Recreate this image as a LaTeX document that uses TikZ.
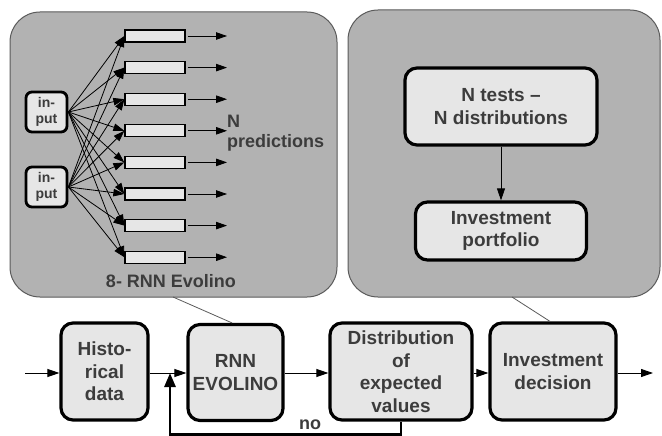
\documentclass[tikz,border=0pt]{standalone}
\usepackage{fontspec}
\setmainfont{Liberation Sans}
\usetikzlibrary{arrows.meta}
\definecolor{panelfill}{HTML}{B2B2B2}
\definecolor{panelline}{HTML}{5A5A5A}
\definecolor{boxfill}{HTML}{E6E6E6}
\definecolor{txt}{HTML}{3C3C3C}
\tikzset{
  panel/.style={draw=panelline, line width=1pt, fill=panelfill, rounded corners=30pt, inner sep=0pt},
  bigbox/.style={draw=black, line width=3.2pt, fill=boxfill, rounded corners=12pt, align=center,
    text=txt, font=\fontsize{19}{22.5}\selectfont\bfseries, inner sep=0pt},
  inbox/.style={draw=black, line width=2.8pt, fill=boxfill, rounded corners=6pt, align=center,
    text=txt, font=\fontsize{14}{15.5}\selectfont\bfseries, inner sep=0pt,
    minimum width=41pt, minimum height=40pt},
  cell/.style={draw=black, line width=1.3pt, fill=boxfill, minimum width=60pt, minimum height=12pt, inner sep=0pt},
  lbl/.style={text=txt, font=\fontsize{18}{20}\selectfont\bfseries, align=left, inner sep=0pt},
  thin/.style={line width=0.9pt, -{Triangle[length=12pt,width=8pt]}},
  fan/.style={line width=0.8pt, -{Triangle[length=11pt,width=7.5pt]}},
  feed/.style={line width=2.8pt, -{Triangle[length=14pt,width=11pt]}},
  link/.style={draw=panelline, line width=0.8pt}
}
\begin{document}
\begin{tikzpicture}[x=1pt,y=-1pt]
\useasboundingbox (0,0) rectangle (662,436);
% panels
\node[panel, minimum width=327pt, minimum height=285pt] (lp) at (173.5,154.5) {};
\node[panel, minimum width=312pt, minimum height=287pt] (rp) at (504,153.5) {};
% inputs
\node[inbox] (in1) at (46.5,112) {in-\\put};
\node[inbox] (in2) at (46.5,187) {in-\\put};
% cells
\foreach \i in {1,...,8} {
  \pgfmathsetmacro{\yy}{36+31.6*(\i-1)}
  \node[cell] (c\i) at (155,\yy) {};
  \coordinate (o\i) at (227,\yy);
  \draw[fan] (c\i.east) ++(2pt,0) -- (o\i);
  \draw[fan] (in1.east) -- (c\i.west);
  \draw[fan] (in2.east) -- (c\i.west);
}
\node[lbl, anchor=west] (np) at (227,133) {N\\predictions};
\node[lbl, align=center] (ev) at (171,281) {8- RNN Evolino};
% right panel content
\node[bigbox, minimum width=192pt, minimum height=77pt] (nt) at (501,106.5) {N tests –\\N distributions};
\node[bigbox, minimum width=171pt, minimum height=58pt] (pf) at (501,231) {Investment\\portfolio};
\draw[line width=0.8pt, -{Triangle[length=12pt,width=8pt]}] (nt.south) -- (pf.north);
% bottom row
\node[bigbox, minimum width=87pt, minimum height=97pt] (hd) at (104.5,371.5) {Histo-\\rical\\data};
\node[bigbox, minimum width=95pt, minimum height=96pt] (rnn) at (235.5,372.5) {RNN\\EVOLINO};
\node[bigbox, minimum width=142pt, minimum height=97pt] (dist) at (401,371.5) {Distribution\\of\\expected\\values};
\node[bigbox, minimum width=126pt, minimum height=97pt] (inv) at (553,371.5) {Investment\\decision};
\coordinate (start) at (25,373);
\coordinate (end) at (653,373);
\draw[thin] (start) -- (hd.west |- start);
\draw[thin] (hd.east |- start) -- (rnn.west |- start);
\draw[thin] (rnn.east |- start) -- (dist.west |- start);
\draw[thin] (dist.east |- start) -- (inv.west |- start);
\draw[thin] (inv.east |- start) -- (end);
% feedback
\coordinate (fb) at (170,373);
\draw[feed] (dist.south) -- ++(0,13) -| (fb);
\node[text=txt, font=\fontsize{18}{20}\selectfont\bfseries, inner sep=0pt] (no) at (310,425) {no};
% links
\coordinate (l1) at (173,297);
\coordinate (l2) at (512,297);
\draw[link] (l1) -- (rnn.north -| 232,0);
\draw[link] (l2) -- (inv.north -| 550,0);
\end{tikzpicture}
\end{document}
